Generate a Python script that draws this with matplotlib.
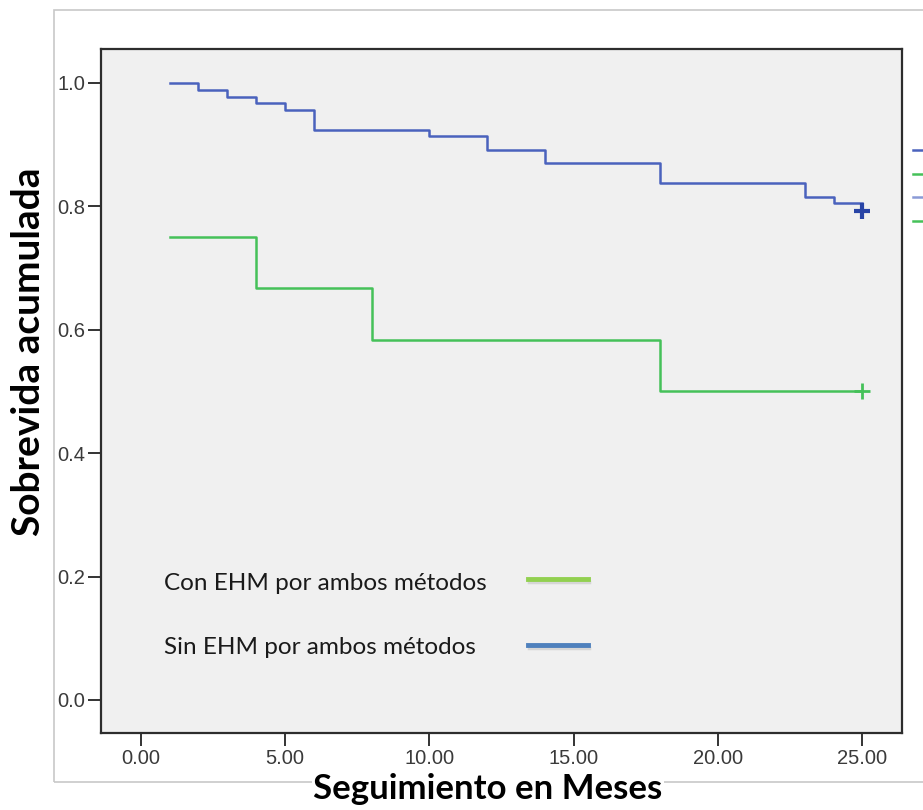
import numpy as np
import matplotlib
matplotlib.use('Agg')
from matplotlib import pyplot as plt
from matplotlib.patches import Rectangle
from matplotlib.lines import Line2D

# Kaplan-Meier steps
sin_t = [1, 2, 3, 4, 5, 6, 10, 12, 14, 18, 23, 24, 25]
sin_s = [1.0, 0.989, 0.978, 0.968, 0.956, 0.924, 0.914, 0.891, 0.870, 0.838, 0.815, 0.805, 0.805]
sin_cens_t = [25]
sin_cens_s = [0.793]

con_t = [1, 4, 8, 18, 25]
con_s = [0.75, 0.667, 0.583, 0.5, 0.5]
con_cens_t = [25]
con_cens_s = [0.5]

xticks = [0, 5, 10, 15, 20, 25]
yticks = [0.0, 0.2, 0.4, 0.6, 0.8, 1.0]

BLUE = '#4a62bd'
GREEN = '#45c159'
W, H = 923, 810

fig = plt.figure(figsize=(W / 100, H / 100), dpi=100)
fig.patch.set_facecolor('white')

# outer light frame (chart editor border)
fig.patches.append(Rectangle((54 / W, 1 - 782 / H), 1.2, (782 - 10) / H,
                             transform=fig.transFigure, fill=False,
                             edgecolor='#c8c8c8', lw=1.2, zorder=0))

ax = fig.add_axes([101 / W, 1 - 733 / H, (902 - 101) / W, (733 - 49) / H])
ax.set_facecolor('#f0f0f0')

ax.step(sin_t, sin_s, where='post', color=BLUE, lw=1.8)
ax.step(con_t, con_s, where='post', color=GREEN, lw=1.8)
ax.plot(sin_cens_t, sin_cens_s, '+', color='#2844a6', ms=11, mew=3)
ax.plot(con_cens_t, con_cens_s, '+', color=GREEN, ms=11, mew=2)

ax.set_xlim(-1.375, 26.37)
ax.set_ylim(-0.0535, 1.055)
ax.set_xticks(xticks)
ax.set_xticklabels(['{:.2f}'.format(v) for v in xticks])
ax.set_yticks(yticks)
ax.set_yticklabels(['{:.1f}'.format(v) for v in yticks])
ax.tick_params(direction='out', length=9.5, width=1.4, color='#333333',
               labelsize=14.5, labelcolor='#3a3a3a', pad=2)
for lab in ax.get_xticklabels() + ax.get_yticklabels():
    lab.set_family('Liberation Sans')
for sp in ax.spines.values():
    sp.set_linewidth(1.6)
    sp.set_color('#2d2d2d')

# in-plot legend (text + sample lines)
fig.text(164 / W, 1 - 583 / H, 'Con EHM por ambos métodos', family='Lato',
         fontsize=17.5, color='#1a1a1a', va='center')
fig.text(164 / W, 1 - 647 / H, 'Sin EHM por ambos métodos', family='Lato',
         fontsize=17.5, color='#1a1a1a', va='center')
for yy, c in [(579, '#92d050'), (645, '#4f81bd')]:
    fig.lines.append(Line2D([529 / W, 589 / W], [1 - (yy + 2.5) / H] * 2,
                            transform=fig.transFigure, color='#d6d6d6', lw=2.5))
    fig.lines.append(Line2D([528 / W, 588 / W], [1 - yy / H] * 2,
                            transform=fig.transFigure, color=c, lw=3.5))

# clipped legend on the right edge (only the sample lines show)
handles = [Line2D([], [], color=BLUE, lw=1.8), Line2D([], [], color=GREEN, lw=1.8),
           Line2D([], [], color='#8a9ad6', lw=1.8), Line2D([], [], color=GREEN, lw=1.8)]
fig.legend(handles, ['', '', '', ''],
           loc='upper left', bbox_to_anchor=(905 / W, 1 - 136 / H), frameon=False,
           handlelength=2.0, labelspacing=0.55, fontsize=11, borderpad=0)

fig.text(29 / W, 1 - 352 / H, 'Sobrevida acumulada', family='Lato', weight='bold',
         fontsize=28, rotation=90, ha='center', va='center', color='black')
fig.text(488 / W, 1 - 789 / H, 'Seguimiento en Meses', family='Lato', weight='bold',
         fontsize=25, ha='center', va='center', color='black',
         bbox=dict(facecolor='white', edgecolor='none', pad=1))

fig.savefig('out.png', dpi=100)
